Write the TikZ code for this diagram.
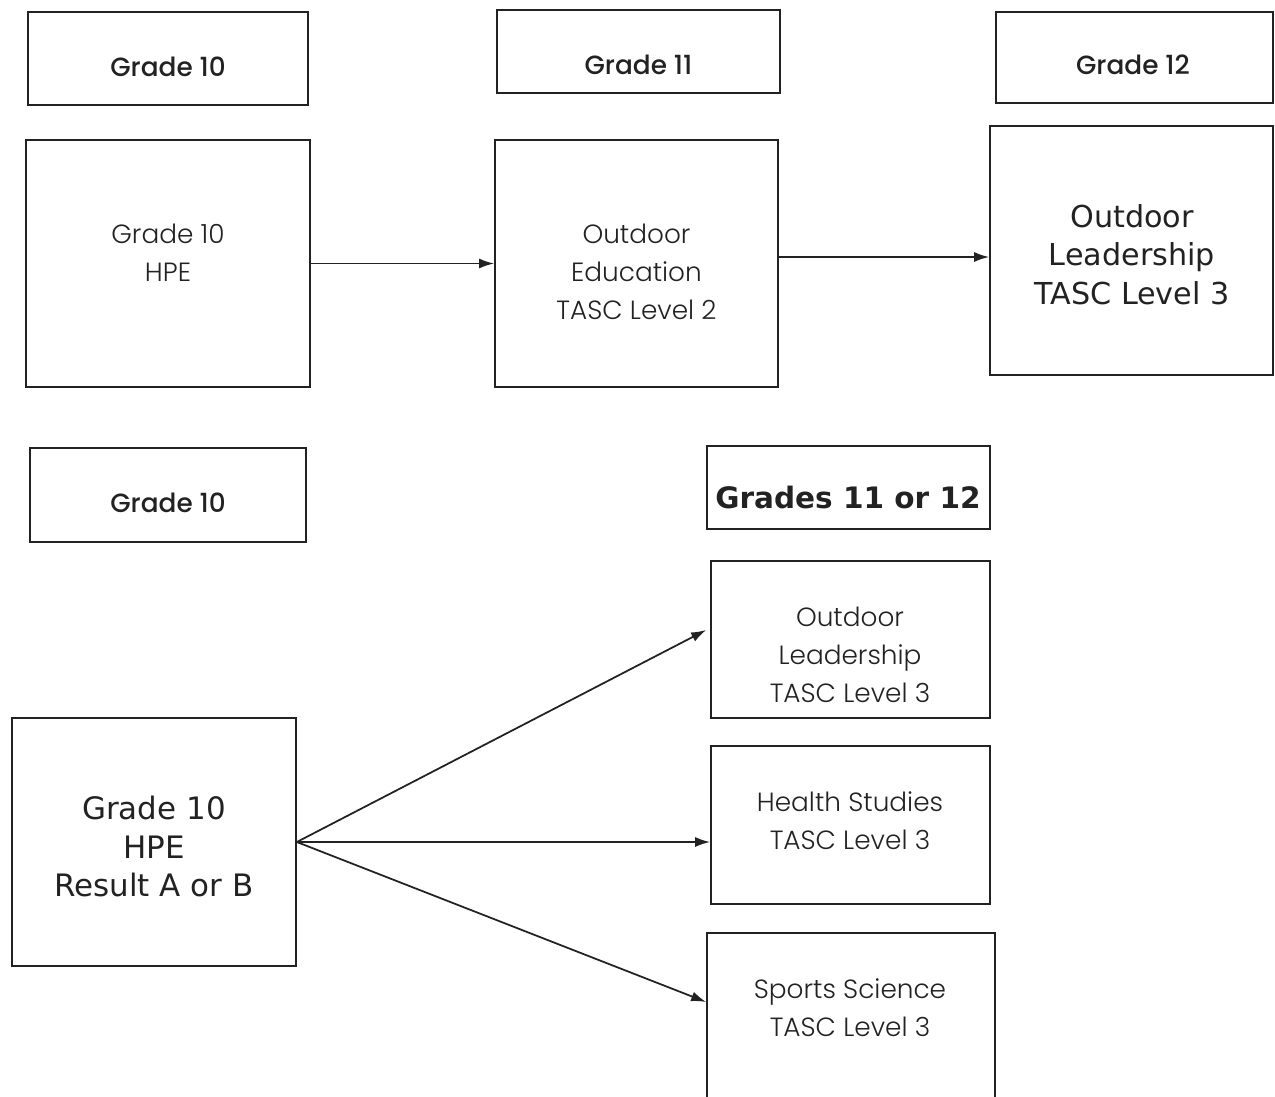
\documentclass[tikz,border=0pt]{standalone}
\usepackage{fontspec}
\usepackage{xcolor}
\usetikzlibrary{shapes.geometric, arrows, arrows.meta}
\usetikzlibrary{positioning}
\IfFontExistsTF{Poppins Medium}{\newfontfamily\headfont{Poppins Medium}}{\newfontfamily\headfont{Poppins}}
\IfFontExistsTF{Poppins Light}{\newfontfamily\lightfont{Poppins Light}}{\newfontfamily\lightfont{Poppins}}
\newfontfamily\dvfont{DejaVu Sans}
\definecolor{ink}{HTML}{222222}
\tikzset{
  box/.style={draw=ink, line width=1pt, rectangle, inner sep=0pt},
  head/.style={text=ink, font=\headfont\fontsize{15}{20}\selectfont},
  body/.style={align=center, text=ink, font=\lightfont\fontsize{15}{21.5}\selectfont},
  big/.style={align=center, text=ink, font=\dvfont\fontsize{17.2}{21.8}\selectfont},
  arr/.style={-{Latex[length=0.3cm, width=0.2cm]}, draw=ink, line width=1pt}
}

\begin{document}
\begin{tikzpicture}[x=0.02cm, y=-0.02cm]
\clip (0,0) rectangle (1275,1096);
% upper pathway
\node[box, minimum width=5.6cm, minimum height=1.86cm] (hd10) at (168,58.5) {};
\node[head] (hd10t) at (168,67) {Grade 10};
\node[box, minimum width=5.66cm, minimum height=1.66cm] (hd11) at (638.5,51.5) {};
\node[head] (hd11t) at (638.5,65) {Grade 11};
\node[box, minimum width=5.54cm, minimum height=1.82cm] (hd12) at (1134.5,57.5) {};
\node[head] (hd12t) at (1133,65) {Grade 12};

\node[box, minimum width=5.68cm, minimum height=4.94cm] (hpe) at (168,263.5) {};
\node[body] (hpet) at (168,253) {Grade 10\\HPE};
\node[box, minimum width=5.66cm, minimum height=4.94cm] (oe) at (636.5,263.5) {};
\node[body] (oet) at (636.5,272) {Outdoor\\Education\\TASC Level 2};
\node[box, minimum width=5.66cm, minimum height=4.98cm] (ol) at (1131.5,250.5) {};
\node[big] (olt) at (1132,254.5) {Outdoor\\Leadership\\TASC Level 3};

\draw[arr] (hpe) -- (oe);
\draw[arr] ([yshift=0.13cm]oe.east) -- ([yshift=0.13cm]oe.east -| ol.west);

% lower pathway
\node[box, minimum width=5.52cm, minimum height=1.88cm] (hd10b) at (168,495) {};
\node[head] (hd10bt) at (168,503) {Grade 10};
\node[box, minimum width=5.66cm, minimum height=1.66cm] (hd1112) at (848.5,487.5) {};
\node[text=ink, font=\dvfont\bfseries\fontsize{16.8}{18}\selectfont] (hd1112t) at (848,497) {Grades 11 or 12};

\node[box, minimum width=5.68cm, minimum height=4.96cm] (hper) at (154,842) {};
\node[big, font=\dvfont\fontsize{17.6}{21.8}\selectfont] (hpert) at (154,846.5) {Grade 10\\HPE\\Result A or B};
\node[box, minimum width=5.58cm, minimum height=3.14cm] (olb) at (850.5,639.5) {};
\node[body] (olbt) at (850,655) {Outdoor\\Leadership\\TASC Level 3};
\node[box, minimum width=5.58cm, minimum height=3.16cm] (hs) at (850.5,825) {};
\node[body] (hst) at (850,821) {Health Studies\\TASC Level 3};
\node[box, minimum width=5.76cm, minimum height=3.54cm] (ss) at (851,1021.5) {};
\node[body] (sst) at (850,1008) {Sports Science\\TASC Level 3};

\draw[arr] (hper.east) -- ([shift={(-0.08cm,0.19cm)}]olb.west);
\draw[arr] (hper.east) -- (hper.east -| hs.west);
\draw[arr] (hper.east) -- ([yshift=0.39cm]ss.west);
\end{tikzpicture}
\end{document}
